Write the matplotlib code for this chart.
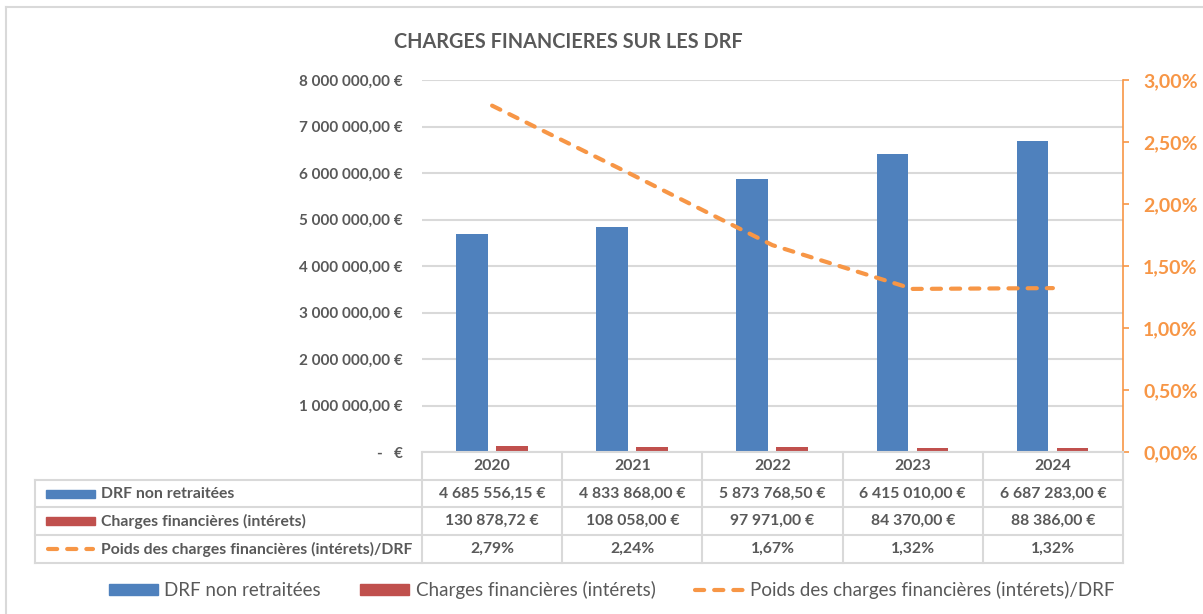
import matplotlib
matplotlib.use("Agg")
import matplotlib.pyplot as plt
from matplotlib.patches import Rectangle
from matplotlib.lines import Line2D
import numpy as np

## Data
annees = ["2020", "2021", "2022", "2023", "2024"]
drf = [4685556.15, 4833868.00, 5873768.50, 6415010.00, 6687283.00]
charges = [130878.72, 108058.00, 97971.00, 84370.00, 88386.00]
poids = [2.7933, 2.2354, 1.6680, 1.3152, 1.3217]   # en %
noms_series = ["DRF non retraitées", "Charges financières (intérets)",
               "Poids des charges financières (intérets)/DRF"]
ticks_gauche = [0, 1e6, 2e6, 3e6, 4e6, 5e6, 6e6, 7e6, 8e6]
ticks_droite = [0, 0.5, 1.0, 1.5, 2.0, 2.5, 3.0]

BLEU = "#4F81BD"
ROUGE = "#C0504D"
ORANGE = "#F79646"
GRIS = "#595959"
GRILLE = "#D9D9D9"

plt.rcParams["font.family"] = ["Lato", "DejaVu Sans"]

W, H = 1203, 614

def fx(px):
    return px / W

def fy(py):
    return 1 - py / H

def euros(v):
    if v == 0:
        return "-   €"
    s = f"{v:,.2f}".replace(",", " ").replace(".", ",")
    return s + " €"

def pourcent(v):
    return f"{v:.2f}".replace(".", ",") + "%"

# style of the dashed orange line
tiret = dict(color=ORANGE, linewidth=3, dashes=(2.2, 2.4),
             dash_capstyle="round")

fig = plt.figure(figsize=(W / 100, H / 100), dpi=100)

# chart border (only left and top visible)
bord = dict(transform=fig.transFigure, color=GRILLE, linewidth=1.5)
fig.lines.append(Line2D([fx(6), fx(6)], [fy(7), 0], **bord))
fig.lines.append(Line2D([fx(6), 1], [fy(7), fy(7)], **bord))

# plot area
x0, x1, ytop, ybot = 422, 1123, 80, 452
ax = fig.add_axes([fx(x0), fy(ybot), fx(x1) - fx(x0), fy(ytop) - fy(ybot)])
x = np.arange(len(annees))
larg = 0.225
ax.bar(x - 0.145, drf, width=larg, color=BLEU, zorder=3)
ax.bar(x + 0.14, charges, width=larg, color=ROUGE, zorder=3)
ax.set_xlim(-0.5, len(annees) - 0.5)
ax.set_ylim(0, 8e6)
ax.set_yticks(ticks_gauche)
ax.set_yticklabels([euros(t) for t in ticks_gauche], fontsize=11,
                   fontweight="bold", color=GRIS)
ax.tick_params(axis="y", length=0, pad=14)
ax.set_xticks([])
for s in ax.spines.values():
    s.set_visible(False)
ax.grid(axis="y", color=GRILLE, linewidth=1.5, zorder=0)
ax.set_axisbelow(True)

ax2 = ax.twinx()
ax2.plot(x, poids, zorder=4, **tiret)
ax2.set_ylim(0, 3)
ax2.set_yticks(ticks_droite)
ax2.set_yticklabels([pourcent(t) for t in ticks_droite], fontsize=14,
                    fontweight="bold", color=ORANGE)
ax2.tick_params(axis="y", color=ORANGE, length=4.5, width=1.2, pad=10)
for nom, s in ax2.spines.items():
    s.set_visible(nom == "right")
ax2.spines["right"].set_color(ORANGE)
ax2.spines["right"].set_linewidth(1.2)

# title
fig.text(fx(568), fy(42), "CHARGES FINANCIERES SUR LES DRF", ha="center",
         va="center", fontsize=14.3, fontweight="bold", color=GRIS)

# data table
lignes_y = [452, 480, 507, 535, 563]
col_x = [x0 + i * (x1 - x0) / len(annees) for i in range(len(annees) + 1)]
tab_gauche = 35
lk = dict(transform=fig.transFigure, color=GRILLE, linewidth=1.5)
fig.lines.append(Line2D([fx(x0), fx(x1)], [fy(lignes_y[0])] * 2, **lk))
for yl in lignes_y[1:]:
    fig.lines.append(Line2D([fx(tab_gauche), fx(x1)], [fy(yl)] * 2, **lk))
for xc in col_x:
    fig.lines.append(Line2D([fx(xc)] * 2, [fy(lignes_y[0]), fy(lignes_y[-1])], **lk))
fig.lines.append(Line2D([fx(tab_gauche)] * 2, [fy(lignes_y[1]), fy(lignes_y[-1])], **lk))

txt = dict(ha="center", va="center", fontsize=11.3, fontweight="bold", color=GRIS)
centres_y = [(lignes_y[i] + lignes_y[i + 1]) / 2 for i in range(4)]
lignes_tab = [[str(a) for a in annees],
              [euros(v) for v in drf],
              [euros(v) for v in charges],
              [pourcent(v) for v in poids]]
for r, valeurs in enumerate(lignes_tab):
    for c, v in enumerate(valeurs):
        cx = (col_x[c] + col_x[c + 1]) / 2
        fig.text(fx(cx), fy(centres_y[r]), v, **txt)

# table legend keys
for r, nom in enumerate(noms_series):
    yc = centres_y[r + 1]
    if r < 2:
        fig.patches.append(Rectangle((fx(46), fy(yc + 4)), fx(95) - fx(46),
                                     fy(yc - 4) - fy(yc + 4),
                                     transform=fig.transFigure,
                                     color=[BLEU, ROUGE][r]))
    else:
        fig.lines.append(Line2D([fx(48), fx(93)], [fy(yc)] * 2,
                                transform=fig.transFigure, **tiret))
    fig.text(fx(101), fy(yc), nom, ha="left", va="center", fontsize=11.3,
             fontweight="bold", color=GRIS)

# bottom legend
poignees = [Rectangle((0, 0), 1, 1, color=BLEU),
            Rectangle((0, 0), 1, 1, color=ROUGE),
            Line2D([], [], **tiret)]
fig.legend(poignees, noms_series, loc="center", ncol=3,
           bbox_to_anchor=(fx(612), fy(590)), frameon=False, fontsize=13.5,
           labelcolor=GRIS, handlelength=2.6, handleheight=0.55,
           columnspacing=2.1, handletextpad=0.35)

fig.savefig("out.png", dpi=100)
